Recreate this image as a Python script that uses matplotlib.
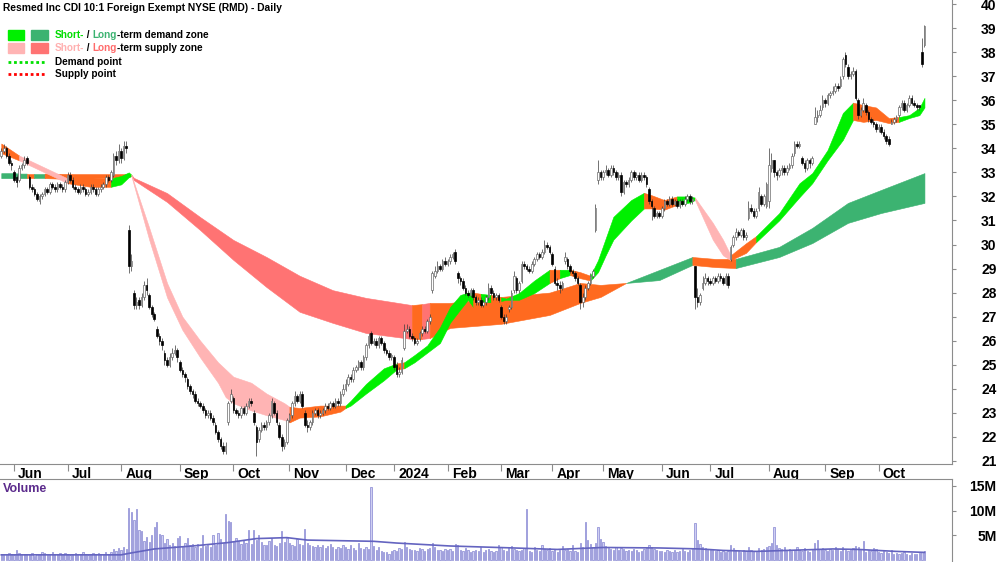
import matplotlib
matplotlib.use('Agg')
import matplotlib.pyplot as plt
from matplotlib.patches import Rectangle
from matplotlib.lines import Line2D
import numpy as np
import pandas as pd

plt.rcParams['font.family'] = ['Liberation Sans Narrow', 'Liberation Sans', 'DejaVu Sans']

TITLE = "Resmed Inc CDI 10:1 Foreign Exempt NYSE (RMD) - Daily"

# ASX trading days
holidays = ['2023-06-12', '2023-12-25', '2023-12-26', '2024-01-01', '2024-01-26',
            '2024-03-29', '2024-04-01', '2024-04-25', '2024-06-10']
dates = pd.bdate_range('2023-05-25', '2024-10-25')
dates = dates[~dates.isin(pd.to_datetime(holidays))]

# daily prices, one row per month
closes = [
    33.9, 34.0, 33.7, 33.4, 33.3,
    32.7, 32.6, 33.2, 33.3, 33.5, 33.4, 32.4, 32.3, 32.1, 31.9, 32.0, 32.1, 32.3, 32.2, 32.5, 32.4, 32.3, 32.5, 32.4, 32.3, 32.6,
    32.9, 32.7, 32.4, 32.3, 32.2, 32.4, 32.3, 32.1, 32.2, 32.4, 32.3, 32.1, 32.3, 32.4, 32.5, 32.8, 32.7, 33.0, 33.7, 33.5, 33.9,
    33.6, 34.1, 34.0, 29.1, 29.3, 27.5, 27.6, 27.5, 27.8, 28.3, 28.1, 27.4, 27.1, 26.9, 26.2, 26.0, 25.8, 25.2, 25.0, 25.3, 25.5, 25.6, 25.3,
    24.8, 24.6, 24.5, 24.1, 23.9, 23.8, 23.5, 23.4, 23.3, 23.1, 22.9, 23.0, 22.8, 22.6, 22.2, 21.9, 21.6, 21.4, 21.6, 23.4, 23.8,
    23.1, 23.0, 22.9, 23.2, 23.0, 23.3, 23.5, 23.4, 22.6, 21.8, 22.3, 22.5, 22.4, 22.6, 22.9, 23.5, 23.0, 22.6, 22.0, 21.6, 21.8, 22.7,
    22.9, 23.4, 23.7, 23.5, 23.8, 23.3, 22.5, 22.4, 22.6, 23.0, 23.1, 22.9, 23.0, 23.1, 23.3, 23.2, 23.4, 23.3, 23.5, 23.4, 23.8, 24.0,
    24.2, 24.5, 24.4, 24.8, 24.9, 25.1, 24.9, 25.3, 25.8, 26.2, 25.9, 26.0, 25.8, 26.1, 25.9, 25.6, 25.5, 25.3, 25.4,
    24.9, 24.6, 24.7, 25.2, 26.4, 26.5, 26.2, 26.1, 25.9, 26.0, 26.3, 26.5, 26.4, 26.8, 27.0, 28.8, 28.9, 29.1, 29.0, 29.3, 29.2,
    29.3, 29.5, 29.6, 29.3, 28.6, 28.5, 28.2, 28.0, 27.9, 28.1, 27.8, 27.6, 27.7, 27.5, 27.6, 27.8, 28.2, 28.0, 27.8, 27.9, 27.7,
    27.0, 26.8, 27.0, 27.4, 28.0, 28.7, 28.1, 28.4, 29.2, 29.1, 29.0, 28.9, 29.2, 29.4, 29.6, 29.5, 29.7, 30.0, 29.9, 29.7,
    29.2, 28.4, 28.3, 28.2, 28.4, 29.5, 29.1, 28.9, 28.8, 28.6, 28.4, 27.6, 27.8, 28.2, 28.4, 28.7, 28.9, 31.5, 33.0, 32.8,
    33.0, 33.1, 32.9, 33.2, 33.0, 32.8, 32.9, 32.2, 32.6, 32.5, 32.7, 33.0, 32.8, 32.9, 32.7, 32.9, 32.8, 32.5, 31.8, 31.6, 31.2, 31.3, 31.2,
    31.5, 31.8, 31.7, 31.9, 31.7, 31.8, 31.6, 31.8, 31.7, 31.9, 32.0, 31.8, 31.9, 27.8, 27.6, 27.9, 28.4, 28.6, 28.5,
    28.4, 28.6, 28.5, 28.7, 28.6, 28.4, 28.7, 28.3, 29.9, 30.3, 30.5, 30.4, 30.6, 30.3, 30.4, 31.5, 31.4, 31.2, 31.4, 32.2, 31.7, 32.0, 32.5,
    33.3, 33.5, 33.0, 32.9, 33.1, 33.2, 33.0, 33.2, 33.3, 33.7, 34.2, 34.1, 34.2, 33.4, 33.2, 33.5, 33.4, 33.6, 35.3, 35.4, 35.6, 36.0,
    35.9, 36.2, 36.3, 36.4, 36.6, 36.5, 36.9, 37.7, 37.5, 37.0, 37.1, 37.2, 36.1, 35.4, 35.6, 35.9, 35.5, 35.2, 35.1, 35.0, 34.8,
    34.9, 34.7, 34.5, 34.3, 34.2, 35.1, 35.2, 35.3, 35.7, 35.9, 35.6, 35.8, 36.1, 35.9, 35.8, 35.7, 35.7, 37.5, 39.1,
]
opens = [
    33.7, 33.9, 34.0, 33.7, 33.4,
    33.0, 32.8, 32.7, 33.2, 33.3, 33.6, 32.8, 32.4, 32.3, 32.1, 31.8, 32.0, 32.1, 32.3, 32.2, 32.5, 32.4, 32.3, 32.5, 32.4, 32.3,
    32.6, 32.9, 32.7, 32.4, 32.3, 32.2, 32.4, 32.3, 32.1, 32.2, 32.4, 32.3, 32.1, 32.3, 32.4, 32.5, 32.8, 32.7, 32.9, 33.7, 33.5,
    33.9, 33.6, 34.1, 30.6, 29.1, 28.0, 27.5, 27.7, 27.5, 27.8, 28.3, 27.9, 27.4, 27.1, 26.5, 26.2, 26.0, 25.5, 25.2, 25.0, 25.3, 25.5, 25.6,
    25.1, 24.8, 24.6, 24.4, 24.1, 23.9, 23.8, 23.5, 23.4, 23.3, 23.1, 22.9, 23.0, 22.8, 22.5, 22.2, 21.9, 21.6, 21.4, 22.6, 23.5,
    23.6, 23.1, 23.0, 22.9, 23.2, 23.0, 23.3, 23.5, 23.0, 22.4, 21.9, 22.3, 22.5, 22.4, 22.6, 22.9, 23.4, 23.0, 22.5, 22.0, 21.6, 21.8,
    22.7, 22.9, 23.4, 23.7, 23.5, 23.8, 23.0, 22.5, 22.4, 22.6, 23.0, 23.1, 22.9, 23.0, 23.1, 23.3, 23.2, 23.4, 23.3, 23.5, 23.4, 23.8,
    24.0, 24.2, 24.5, 24.4, 24.8, 24.9, 25.1, 24.9, 25.3, 25.8, 26.3, 25.9, 26.0, 25.8, 26.1, 25.9, 25.6, 25.5, 25.3,
    25.3, 25.0, 24.6, 24.7, 25.7, 26.4, 26.5, 26.2, 26.1, 25.9, 26.1, 26.3, 26.5, 26.4, 26.8, 28.1, 28.7, 28.9, 29.1, 29.0, 29.3,
    29.2, 29.3, 29.5, 29.7, 28.8, 28.6, 28.5, 28.2, 28.0, 27.9, 28.1, 27.8, 27.6, 27.7, 27.5, 27.6, 27.8, 28.2, 28.0, 27.8, 27.9,
    27.4, 27.0, 26.8, 27.3, 27.4, 28.1, 28.6, 28.1, 28.5, 29.2, 29.1, 29.0, 28.9, 29.2, 29.4, 29.6, 29.5, 29.7, 30.0, 29.9,
    29.6, 29.0, 28.4, 28.3, 28.2, 29.3, 29.4, 29.1, 28.9, 28.8, 28.6, 28.3, 27.6, 27.8, 28.2, 28.4, 28.7, 30.6, 32.7, 33.0,
    32.8, 33.0, 33.1, 32.9, 33.2, 33.0, 32.8, 32.9, 32.2, 32.6, 32.5, 32.7, 33.0, 32.8, 32.9, 32.7, 32.9, 32.8, 32.3, 31.8, 31.5, 31.2, 31.3,
    31.2, 31.5, 31.8, 31.7, 31.9, 31.7, 31.8, 31.6, 31.8, 31.7, 31.9, 32.0, 31.8, 29.1, 27.8, 27.6, 28.2, 28.4, 28.6,
    28.5, 28.4, 28.6, 28.5, 28.7, 28.6, 28.4, 28.7, 29.4, 30.0, 30.3, 30.5, 30.4, 30.6, 30.3, 31.1, 31.5, 31.4, 31.2, 31.5, 32.0, 31.7, 31.6,
    31.8, 33.2, 33.5, 33.0, 32.9, 33.1, 33.2, 33.0, 33.2, 33.3, 33.8, 34.2, 34.1, 33.6, 33.4, 33.2, 33.5, 33.4, 35.0, 35.3, 35.4, 35.7,
    36.0, 35.9, 36.2, 36.3, 36.4, 36.6, 36.6, 37.0, 37.9, 37.4, 37.0, 37.1, 37.2, 36.0, 35.4, 35.6, 35.8, 35.5, 35.2, 35.1, 35.0,
    34.8, 34.9, 34.7, 34.5, 34.4, 35.0, 35.1, 35.2, 35.4, 35.7, 35.9, 35.6, 35.8, 36.1, 35.9, 35.8, 35.8, 38.0, 38.3,
]
highs = [
    34.0, 34.2, 34.1, 33.8, 33.5,
    33.1, 32.9, 33.3, 33.4, 33.7, 33.7, 32.9, 32.5, 32.4, 32.2, 32.1, 32.2, 32.4, 32.4, 32.6, 32.6, 32.5, 32.6, 32.6, 32.5, 32.7,
    33.0, 33.0, 32.8, 32.5, 32.4, 32.5, 32.5, 32.4, 32.3, 32.5, 32.5, 32.4, 32.4, 32.5, 32.6, 32.9, 32.9, 33.1, 33.8, 33.9, 34.2,
    34.0, 34.3, 34.3, 30.8, 29.6, 28.1, 27.8, 27.8, 28.0, 28.5, 28.6, 28.0, 27.5, 27.2, 26.6, 26.3, 26.1, 25.6, 25.3, 25.5, 25.7, 25.8, 25.7,
    25.2, 24.9, 24.7, 24.5, 24.2, 24.0, 23.9, 23.6, 23.5, 23.4, 23.2, 23.1, 23.1, 22.9, 22.6, 22.3, 22.0, 21.8, 21.8, 23.5, 24.0,
    23.7, 23.2, 23.1, 23.3, 23.3, 23.4, 23.6, 23.6, 23.1, 22.5, 22.4, 22.6, 22.6, 22.7, 23.0, 23.6, 23.5, 23.1, 22.6, 22.1, 21.9, 22.8,
    23.0, 23.5, 23.9, 23.8, 23.9, 23.9, 23.1, 22.7, 22.7, 23.1, 23.2, 23.2, 23.1, 23.2, 23.4, 23.4, 23.5, 23.5, 23.6, 23.6, 23.9, 24.2,
    24.4, 24.6, 24.6, 24.9, 25.0, 25.2, 25.2, 25.4, 25.9, 26.3, 26.4, 26.1, 26.1, 26.2, 26.2, 26.0, 25.7, 25.6, 25.5,
    25.4, 25.1, 24.9, 25.3, 26.7, 26.7, 26.6, 26.3, 26.2, 26.1, 26.4, 26.6, 26.6, 26.9, 27.1, 28.9, 29.1, 29.3, 29.2, 29.4, 29.5,
    29.4, 29.6, 29.7, 29.8, 28.9, 28.7, 28.6, 28.3, 28.1, 28.2, 28.2, 27.9, 27.8, 27.8, 27.7, 27.9, 28.4, 28.3, 28.1, 28.0, 28.0,
    27.5, 27.1, 27.1, 27.5, 28.1, 28.9, 28.7, 28.5, 29.3, 29.3, 29.2, 29.1, 29.3, 29.5, 29.7, 29.7, 29.8, 30.2, 30.1, 30.0,
    29.7, 29.1, 28.6, 28.5, 28.5, 29.7, 29.5, 29.2, 29.0, 28.9, 28.7, 28.4, 28.0, 28.3, 28.5, 28.8, 29.0, 31.7, 33.5, 33.1,
    33.1, 33.3, 33.2, 33.3, 33.3, 33.1, 33.0, 33.0, 32.7, 32.7, 32.8, 33.1, 33.1, 33.0, 33.0, 33.0, 33.0, 32.9, 32.4, 31.9, 31.6, 31.4, 31.4,
    31.6, 31.9, 31.9, 32.0, 32.0, 31.9, 31.9, 31.9, 31.9, 32.0, 32.1, 32.1, 32.0, 29.1, 28.2, 28.0, 28.7, 28.8, 28.7,
    28.6, 28.7, 28.7, 28.8, 28.8, 28.7, 28.8, 28.8, 30.0, 30.4, 30.7, 30.6, 30.7, 30.7, 30.5, 31.8, 31.7, 31.5, 31.5, 32.4, 32.1, 32.1, 32.6,
    34.0, 33.8, 33.5, 33.1, 33.2, 33.3, 33.3, 33.3, 33.4, 33.8, 34.3, 34.3, 34.3, 33.7, 33.5, 33.6, 33.6, 33.7, 35.7, 35.6, 35.8, 36.2,
    36.1, 36.3, 36.4, 36.6, 36.7, 36.7, 37.0, 37.8, 38.0, 37.5, 37.2, 37.4, 37.3, 36.1, 35.7, 36.1, 35.9, 35.6, 35.3, 35.2, 35.1,
    35.0, 35.0, 34.8, 34.6, 34.5, 35.2, 35.3, 35.4, 35.8, 36.0, 36.0, 35.9, 36.2, 36.2, 36.0, 35.9, 35.8, 38.6, 39.15,
]
lows = [
    33.6, 33.8, 33.6, 33.3, 33.1,
    32.6, 32.4, 32.6, 33.1, 33.2, 33.3, 32.3, 32.2, 32.0, 31.8, 31.7, 31.9, 32.0, 32.1, 32.1, 32.3, 32.2, 32.2, 32.3, 32.2, 32.2,
    32.5, 32.6, 32.3, 32.2, 32.1, 32.1, 32.2, 32.0, 32.0, 32.1, 32.2, 32.0, 32.0, 32.2, 32.3, 32.4, 32.6, 32.6, 32.8, 33.3, 33.4,
    33.4, 33.5, 33.8, 28.8, 28.9, 27.3, 27.3, 27.3, 27.4, 27.7, 27.9, 27.3, 27.0, 26.8, 26.1, 25.8, 25.6, 25.0, 24.9, 24.9, 25.2, 25.4, 25.1,
    24.7, 24.5, 24.3, 24.0, 23.8, 23.6, 23.4, 23.3, 23.2, 23.0, 22.8, 22.8, 22.7, 22.5, 22.1, 21.8, 21.5, 21.3, 21.3, 22.5, 23.4,
    23.0, 22.9, 22.8, 22.8, 22.9, 22.9, 23.2, 23.3, 22.5, 21.2, 21.8, 22.2, 22.3, 22.3, 22.5, 22.8, 22.9, 22.5, 21.9, 21.4, 21.5, 21.7,
    22.6, 22.8, 23.3, 23.4, 23.4, 23.2, 22.4, 22.2, 22.3, 22.5, 22.9, 22.8, 22.8, 22.9, 23.0, 23.1, 23.1, 23.2, 23.2, 23.3, 23.3, 23.7,
    23.9, 24.1, 24.3, 24.3, 24.7, 24.8, 24.8, 24.8, 25.2, 25.7, 25.8, 25.8, 25.7, 25.7, 25.8, 25.5, 25.4, 25.2, 25.2,
    24.8, 24.5, 24.5, 24.6, 25.6, 26.3, 26.1, 26.0, 25.8, 25.8, 26.0, 26.2, 26.3, 26.3, 26.7, 28.0, 28.6, 28.8, 28.9, 28.9, 29.1,
    29.1, 29.2, 29.4, 29.2, 28.4, 28.3, 28.1, 27.9, 27.8, 27.8, 27.7, 27.5, 27.5, 27.4, 27.4, 27.5, 27.7, 27.9, 27.7, 27.7, 27.6,
    26.9, 26.7, 26.7, 27.2, 27.3, 28.0, 28.0, 28.0, 28.4, 29.0, 28.9, 28.8, 28.8, 29.1, 29.3, 29.4, 29.4, 29.6, 29.8, 29.6,
    29.1, 28.3, 28.1, 28.0, 28.1, 29.2, 29.0, 28.8, 28.7, 28.5, 28.3, 27.3, 27.4, 27.7, 28.1, 28.3, 28.6, 30.5, 32.5, 32.7,
    32.7, 32.9, 32.8, 32.8, 32.9, 32.7, 32.7, 32.0, 32.1, 32.4, 32.4, 32.6, 32.7, 32.7, 32.6, 32.6, 32.7, 32.4, 31.7, 31.0, 31.1, 31.1, 31.1,
    31.1, 31.4, 31.6, 31.6, 31.6, 31.6, 31.5, 31.5, 31.6, 31.6, 31.8, 31.7, 31.7, 27.3, 27.4, 27.5, 28.1, 28.3, 28.3,
    28.3, 28.3, 28.4, 28.4, 28.5, 28.3, 28.3, 28.2, 29.3, 29.9, 30.2, 30.3, 30.3, 30.2, 30.2, 31.0, 31.3, 31.1, 31.1, 31.4, 31.6, 31.6, 31.5,
    31.5, 33.0, 32.8, 32.7, 32.8, 32.9, 32.9, 32.9, 33.1, 33.2, 33.7, 34.0, 34.0, 33.3, 33.0, 33.1, 33.2, 33.3, 35.0, 35.1, 35.3, 35.6,
    35.7, 35.8, 36.1, 36.2, 36.3, 36.4, 36.5, 36.9, 37.4, 36.9, 36.9, 37.0, 36.0, 35.2, 35.3, 35.5, 35.4, 35.1, 35.0, 34.9, 34.7,
    34.7, 34.6, 34.4, 34.2, 34.1, 35.0, 35.0, 35.1, 35.3, 35.6, 35.5, 35.5, 35.7, 35.8, 35.7, 35.6, 35.6, 37.4, 38.2,
]
# volume in millions
volumes = [
    1.2, 0.9, 1.0, 1.4, 1.1,
    1.0, 2.0, 1.3, 0.9, 1.1, 1.2, 1.0, 1.4, 0.8, 1.2, 1.1, 1.5, 1.3, 1.0, 0.9, 1.6, 1.2, 1.1, 1.3, 1.0, 1.4,
    1.1, 0.9, 1.2, 1.3, 1.0, 1.1, 1.5, 1.2, 0.9, 1.0, 1.3, 1.1, 1.4, 1.2, 1.0, 1.6, 1.2, 1.5, 2.2, 1.8, 2.4,
    2.0, 2.6, 2.2, 10.6, 9.8, 8.0, 10.3, 6.0, 5.8, 3.8, 4.6, 3.6, 5.0, 6.6, 7.7, 5.3, 5.0, 3.5, 4.2, 3.0, 3.4, 2.8, 4.5,
    4.9, 2.7, 3.5, 4.5, 2.9, 3.2, 2.6, 3.2, 2.4, 5.1, 2.8, 3.0, 2.6, 5.1, 2.9, 5.5, 4.2, 3.5, 9.3, 7.8, 7.6,
    3.8, 4.5, 3.8, 3.2, 4.0, 3.5, 6.0, 3.3, 6.0, 4.0, 5.0, 3.6, 3.1, 2.9, 3.8, 4.4, 3.0, 2.8, 3.4, 5.8, 3.6, 4.5,
    3.5, 3.0, 2.8, 4.2, 3.3, 2.9, 6.2, 3.4, 3.1, 2.7, 2.5, 3.0, 2.6, 2.9, 2.4, 2.8, 3.2, 2.5, 2.2, 2.6, 2.3, 3.0,
    2.6, 2.2, 2.9, 2.4, 2.0, 3.5, 2.3, 2.1, 2.6, 2.2, 14.7, 2.8, 1.9, 2.5, 1.8, 1.6, 1.5, 1.2, 1.7,
    2.0, 1.8, 2.4, 2.1, 3.6, 2.5, 2.2, 1.9, 2.0, 1.8, 2.3, 2.1, 1.7, 2.2, 2.4, 3.4, 2.6, 2.0, 1.9, 1.8, 2.1,
    1.9, 2.2, 1.7, 3.3, 2.9, 2.0, 1.8, 2.4, 1.9, 1.6, 1.7, 2.0, 1.8, 2.5, 1.6, 1.9, 2.2, 1.7, 1.5, 1.8, 2.9,
    2.6, 2.0, 1.8, 2.3, 2.7, 2.1, 1.9, 1.7, 2.0, 2.3, 10.3, 1.8, 1.6, 2.5, 2.0, 1.7, 2.9, 2.2, 1.9, 2.4,
    1.8, 2.2, 1.6, 2.0, 2.7, 1.9, 2.1, 1.7, 3.0, 1.8, 1.6, 3.4, 2.5, 7.6, 4.0, 3.2, 2.6, 3.5, 6.7, 4.2,
    3.6, 2.8, 2.4, 2.2, 2.0, 2.6, 1.9, 2.3, 2.1, 1.8, 2.0, 1.7, 2.2, 1.9, 1.6, 1.8, 2.1, 2.4, 3.0, 2.6, 2.2, 1.9, 1.7,
    1.8, 1.6, 2.0, 1.7, 1.5, 1.9, 1.6, 1.8, 2.1, 1.7, 1.5, 1.9, 2.2, 7.4, 4.0, 3.2, 2.6, 2.4, 2.0,
    2.2, 1.9, 1.7, 2.0, 1.6, 1.8, 1.5, 1.7, 3.0, 2.4, 2.0, 1.8, 1.6, 1.9, 1.7, 2.6, 2.0, 1.8, 1.6, 2.3, 1.9, 2.1, 2.5,
    2.8, 3.5, 6.6, 2.9, 2.4, 2.1, 2.5, 1.9, 2.2, 1.8, 2.0, 2.6, 1.9, 1.7, 2.3, 1.8, 1.6, 2.0, 3.4, 4.0, 2.1, 2.4,
    2.0, 1.8, 2.2, 1.9, 2.6, 2.1, 1.8, 2.6, 2.0, 1.7, 1.9, 2.4, 2.8, 2.5, 2.0, 3.8, 1.6, 1.9, 1.7, 2.3, 2.2,
    1.6, 1.4, 1.8, 1.5, 1.3, 1.9, 1.2, 1.4, 1.1, 1.3, 1.5, 1.2, 1.0, 1.4, 1.2, 1.1, 1.3, 1.6, 1.8,
]
# volume average line (bar index, millions)
vol_avg_idx = [0, 47, 50, 60, 75, 89, 100, 112, 120, 146, 155, 176, 201, 218, 236, 258, 274, 283, 296, 314, 326, 336, 351, 362]
vol_avg = [1.0, 1.0, 1.3, 2.2, 2.8, 3.5, 4.3, 4.5, 4.0, 3.75, 3.4, 2.8, 2.4, 2.1, 2.5, 2.4, 2.2, 1.9, 1.7, 2.0, 2.2, 2.1, 1.7, 1.5]

# short-term zone edges (bar index, upper, lower) and colour runs
short_idx = [0, 7, 15, 26, 35, 43, 47, 50, 51, 58, 65, 71, 78, 85, 88, 91, 98, 104, 111, 113,
             117, 125, 133, 135, 137, 143, 150, 155, 158, 162, 167, 172, 176, 180, 183, 185, 188, 192, 196, 198,
             203, 209, 215, 219, 223, 227, 231, 234, 237, 240, 247, 252, 255, 260, 265, 270, 272, 279, 283, 286,
             292, 296, 305, 313, 318, 324, 330, 334, 338, 343, 348, 352, 356, 360, 362]
short_hi = [34.2, 33.7, 33.3, 32.75, 32.75, 32.75, 32.85, 33.0, 32.9, 30.7, 28.4, 27.0, 26.0, 25.1, 24.8, 24.5, 24.25, 23.8, 23.4, 23.25,
            23.2, 23.3, 23.3, 23.3, 23.5, 24.2, 24.85, 25.05, 25.1, 25.4, 25.8, 26.55, 27.4, 27.9, 28.0, 28.0, 27.95, 27.9, 27.8, 27.75,
            27.98, 28.5, 28.95, 28.95, 28.95, 28.85, 28.7, 29.35, 30.25, 31.15, 31.85, 32.15, 32.05, 31.85, 32.0, 32.0, 31.95, 30.9, 30.2, 29.55,
            30.05, 30.35, 31.3, 32.55, 32.97, 33.93, 35.47, 35.9, 35.8, 35.7, 35.26, 35.3, 35.38, 35.68, 36.1]
short_lo = [33.8, 33.5, 33.1, 32.55, 32.4, 32.4, 32.5, 32.8, 32.85, 30.2, 27.8, 26.45, 25.3, 24.25, 23.65, 23.4, 23.1, 22.9, 22.7, 22.6,
            22.8, 22.85, 23.05, 23.2, 23.3, 23.8, 24.35, 24.8, 24.85, 25.1, 25.5, 25.9, 26.75, 27.3, 27.7, 27.4, 27.6, 27.6, 27.65, 27.7,
            27.7, 27.98, 28.4, 28.6, 28.73, 28.6, 28.5, 28.85, 29.55, 30.2, 31.0, 31.5, 31.5, 31.45, 31.65, 31.75, 31.85, 30.2, 29.55, 29.35,
            29.65, 30.1, 31.0, 31.97, 32.55, 33.5, 34.35, 35.18, 35.1, 35.18, 35.05, 35.1, 35.26, 35.38, 35.7]
short_runs = [('o', 1), ('ss', 2), ('o', 2), ('sd', 3), ('ss', 11), ('o', 4), ('sd', 4), ('o', 1), ('sd', 7),
              ('o', 1), ('sd', 1), ('o', 1), ('sd', 4), ('o', 1), ('sd', 1), ('o', 2), ('sd', 5), ('o', 3),
              ('sd', 2), ('ss', 3), ('o', 2), ('sd', 6), ('o', 4), ('sd', 3)]

# long-term zone edges
long_idx = [0, 4, 8, 10, 13, 17, 29, 50, 51, 52, 65, 78, 91, 104, 117, 130, 143, 161, 165, 168,
            176, 196, 215, 227, 235, 245, 258, 271, 280, 288, 305, 318, 332, 345, 362]
long_hi = [32.97, 32.97, 32.95, 32.95, 32.95, 32.95, 32.93, 32.93, 32.9, 32.77, 32.14, 31.14, 30.19, 29.48, 28.7, 28.1, 27.78, 27.48, 27.52, 27.57,
           27.57, 27.82, 28.0, 28.4, 28.32, 28.4, 28.94, 29.48, 29.4, 29.4, 29.9, 30.69, 31.73, 32.27, 32.97]
long_lo = [32.76, 32.76, 32.76, 32.76, 32.76, 32.76, 32.72, 32.8, 32.86, 32.68, 31.77, 30.6, 29.36, 28.23, 27.2, 26.74, 26.32, 26.07, 26.07, 26.11,
           26.53, 26.7, 27.07, 27.57, 27.82, 28.4, 28.52, 29.15, 29.06, 29.02, 29.48, 30.06, 30.9, 31.31, 31.73]
long_runs = [('ld', 3), ('o', 1), ('ld', 1), ('o', 3), ('ls', 9), ('o', 1), ('ls', 1), ('o', 6), ('ld', 2), ('o', 2), ('ld', 5)]

zone_colors = {'sd': '#00F000', 'ss': '#FFB4B4', 'ld': '#3CB371', 'ls': '#FF7373', 'o': '#FF6A1F'}

W, H = 1000, 562
fig = plt.figure(figsize=(10, 5.62), dpi=100)
ax = fig.add_axes([0, 1 - 464 / H, 952 / W, 464 / H])
axv = fig.add_axes([0, 0, 952 / W, (H - 479) / H])

n = min(len(dates), len(closes))
x = np.arange(n)
o = np.array(opens[:n]); c = np.array(closes[:n])
hh = np.array(highs[:n]); ll = np.array(lows[:n])


def draw_zone(idx, hi, lo, runs):
    idx = np.array(idx); hi = np.array(hi); lo = np.array(lo)
    k = 0
    for key, cnt in runs:
        sl = slice(k, k + cnt + 1)
        col = zone_colors[key]
        ax.fill_between(idx[sl], hi[sl], lo[sl], color=col, ec=col, lw=0.4, zorder=1)
        k += cnt


draw_zone(long_idx, long_hi, long_lo, long_runs)
draw_zone(short_idx, short_hi, short_lo, short_runs)

# candles
up = c >= o
body_lo = np.minimum(o, c)
body_h = np.maximum(np.abs(c - o), 0.04)
ax.vlines(x, ll, hh, color='#3a3a3a', lw=0.5, zorder=3)
ax.bar(x[up], body_h[up], bottom=body_lo[up], width=0.62, color='white', edgecolor='#6a6a6a', lw=0.5, zorder=4)
ax.bar(x[~up], body_h[~up], bottom=body_lo[~up], width=0.62, color='black', edgecolor='black', lw=0.5, zorder=4)

ax.set_xlim(-0.5, 372.8)
ax.set_ylim(20.87, 40.17)
for s in ['left', 'top']:
    ax.spines[s].set_visible(False)
for s in ['right', 'bottom']:
    ax.spines[s].set_color('#8c8c8c')
    ax.spines[s].set_linewidth(0.8)
ax.yaxis.tick_right()
ax.set_yticks(range(21, 41))
ax.tick_params(axis='y', length=3, color='#8c8c8c', pad=29, labelsize=10)
for lbl in ax.get_yticklabels():
    lbl.set_horizontalalignment('right')
    lbl.set_fontweight('bold')

# month ticks
month_starts = [i for i in range(1, n) if dates[i].month != dates[i - 1].month]
ax.set_xticks(month_starts)
ax.tick_params(axis='x', length=5, color='#8c8c8c', labelbottom=False)
for i in month_starts:
    lab = '2024' if dates[i].month == 1 else dates[i].strftime('%b')
    ax.text(i + 1.6, -10 / 464, lab, transform=ax.get_xaxis_transform(), ha='left', va='center',
            fontsize=10, fontweight='bold', color='black')

# volume panel
v = np.array(volumes[:n])
axv.bar(x, v, width=0.5, color='#cfcff2', edgecolor='#8585d2', lw=0.5)
axv.plot(vol_avg_idx, vol_avg, color='#6464c0', lw=1.2)
axv.set_xlim(-0.5, 372.8)
axv.set_ylim(-0.45, 16.4)
for s in ['left', 'bottom']:
    axv.spines[s].set_visible(False)
for s in ['right', 'top']:
    axv.spines[s].set_color('#8c8c8c')
    axv.spines[s].set_linewidth(0.8)
axv.set_xticks([])
axv.yaxis.tick_right()
axv.set_yticks([5, 10, 15])
axv.set_yticklabels(['5M', '10M', '15M'])
axv.tick_params(axis='y', length=3, color='#8c8c8c', pad=29, labelsize=10)
for lbl in axv.get_yticklabels():
    lbl.set_horizontalalignment('right')
    lbl.set_fontweight('bold')
axv.text(3 / 952, 1 - 10 / 83, 'Volume', transform=axv.transAxes, ha='left', va='center',
         fontsize=9, fontweight='bold', color='#5b2a8c')

# title and legend
fig.text(3 / W, 1 - 8 / H, TITLE, ha='left', va='center', fontsize=7.4, fontweight='bold', color='black')

fig.add_artist(Rectangle((8 / W, 1 - 40 / H), 16 / W, 10 / H, transform=fig.transFigure, color=zone_colors['sd']))
fig.add_artist(Rectangle((31 / W, 1 - 40 / H), 17 / W, 10 / H, transform=fig.transFigure, color=zone_colors['ld']))
fig.add_artist(Rectangle((8 / W, 1 - 53 / H), 16 / W, 10 / H, transform=fig.transFigure, color=zone_colors['ss']))
fig.add_artist(Rectangle((31 / W, 1 - 53 / H), 17 / W, 10 / H, transform=fig.transFigure, color=zone_colors['ls']))
fig.add_artist(Line2D([8 / W, 45 / W], [1 - 62 / H] * 2, transform=fig.transFigure,
                      color='#00E000', lw=2, ls=(0, (1, 1))))
fig.add_artist(Line2D([8 / W, 45 / W], [1 - 74 / H] * 2, transform=fig.transFigure,
                      color='#FF0000', lw=2, ls=(0, (1, 1))))

renderer = fig.canvas.get_renderer()


def text_line(y, parts):
    px = 55
    for txt, col in parts:
        t = fig.text(px / W, 1 - y / H, txt, ha='left', va='center', fontsize=7.2, fontweight='bold', color=col)
        px += t.get_window_extent(renderer).width


text_line(35, [('Short-', '#00DD00'), (' / ', 'black'), ('Long', '#3CB371'), ('-term demand zone', 'black')])
text_line(48, [('Short-', '#FFB0B0'), (' / ', 'black'), ('Long', '#FF6B6B'), ('-term supply zone', 'black')])
text_line(62, [('Demand point', 'black')])
text_line(74, [('Supply point', 'black')])

fig.savefig('out.png', dpi=100)
